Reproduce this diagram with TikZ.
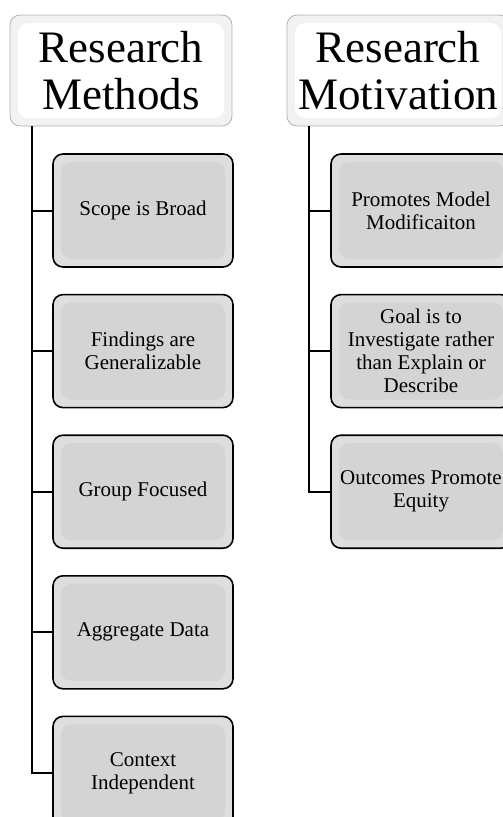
\documentclass[tikz,border=0pt]{standalone}
\usepackage{fontspec}
\setmainfont{Liberation Serif}
\usetikzlibrary{positioning}

\begin{document}
\begin{tikzpicture}[x=1pt,y=1pt,node distance=26pt,
                    head node/.style={rectangle,rounded corners=10pt,draw=black!30,line width=0.8pt,fill=black!5,
                      minimum width=222pt,minimum height=111pt,inner sep=0pt,align=center,
                      font=\fontsize{45}{47}\selectfont,
                      path picture={\fill[white] ([shift={(8pt,-8pt)}]path picture bounding box.north west)
                        rectangle ([shift={(-8pt,8pt)}]path picture bounding box.south east);}},
                    leaf node/.style={rectangle,rounded corners=10pt,draw=black,line width=1.6pt,fill=black!13,
                      minimum width=180pt,minimum height=113pt,inner sep=0pt,align=center,
                      font=\fontsize{21}{23}\selectfont,
                      path picture={\fill[black!17] ([shift={(8pt,-8pt)}]path picture bounding box.north west)
                        rectangle ([shift={(-8pt,8pt)}]path picture bounding box.south east);}},
                    link/.style={line width=2pt}]
  \useasboundingbox (0,0) rectangle (503,-817);

  \node[head node] (methods) at (121,-70.5) {Research\\Methods};
  \node[head node] (motiv) at (398,-70.5) {Research\\Motivation};

  \node[leaf node] (m1) at (143,-210.5) {Scope is Broad};
  \node[leaf node] (m2) [below=of m1] {Findings are\\Generalizable};
  \node[leaf node] (m3) [below=of m2] {Group Focused};
  \node[leaf node] (m4) [below=of m3] {Aggregate Data};
  \node[leaf node] (m5) [below=of m4] {Context\\Independent};

  \node[leaf node] (r1) at (421,-210.5) {Promotes Model\\Modificaiton};
  \node[leaf node] (r2) [below=of r1] {Goal is to\\Investigate rather\\than Explain or\\Describe};
  \node[leaf node] (r3) [below=of r2] {Outcomes Promote\\Equity};

  \foreach \n in {m1,m2,m3,m4,m5}
    \draw[link] ([xshift=22pt]methods.south west) |- (\n.west);
  \foreach \n in {r1,r2,r3}
    \draw[link] ([xshift=22pt]motiv.south west) |- (\n.west);
\end{tikzpicture}
\end{document}
